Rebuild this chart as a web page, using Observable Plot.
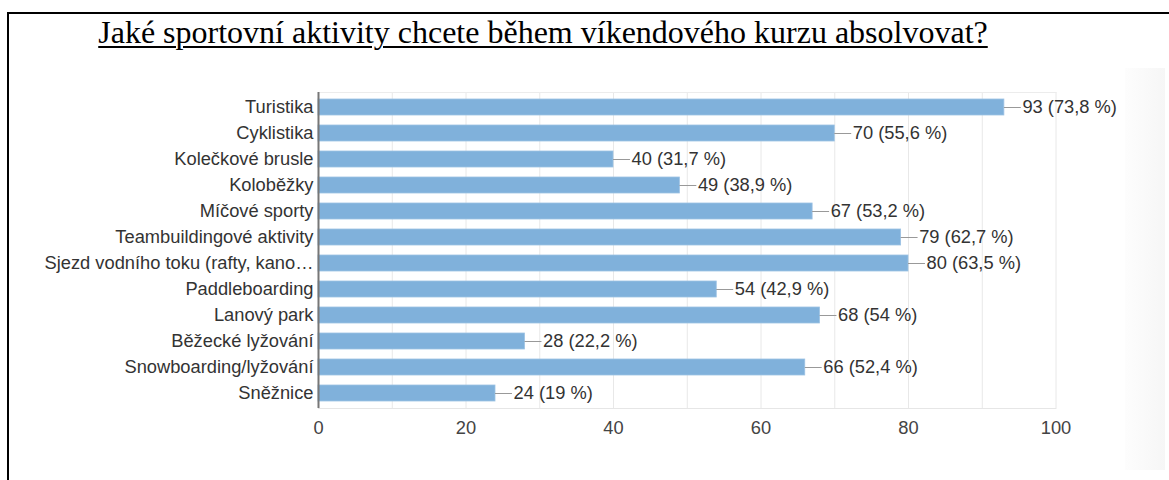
<!DOCTYPE html>
<html>
<head>
<meta charset="utf-8">
<script src="https://cdn.jsdelivr.net/npm/d3@7"></script>
<script src="https://cdn.jsdelivr.net/npm/@observablehq/plot@0.6"></script>
<style>
  html, body { margin: 0; padding: 0; background: #fff; width: 1169px; height: 480px; overflow: hidden; }
  #frame { position: absolute; left: 7px; top: 12px; width: 1300px; height: 600px; border-left: 2px solid #000; border-top: 2px solid #000; }
  #title { position: absolute; left: 0; width: 1086px; top: 14px; text-align: center; font-family: "Liberation Serif", "Times New Roman", serif; font-size: 32px; line-height: 36px; color: #000; text-decoration: underline; text-decoration-thickness: 2px; text-underline-offset: 3px; white-space: nowrap; }
  #shade { position: absolute; left: 1125px; top: 68px; width: 40px; height: 402px; background: linear-gradient(to right, #fdfdfd, #f6f6f6); }
  #chart { position: absolute; left: 0; top: 0; }
</style>
</head>
<body>
<div id="frame"></div>
<div id="shade"></div>
<div id="chart"></div>
<div id="title">Jaké sportovní aktivity chcete během víkendového kurzu absolvovat?</div>
<script>
const categories = [
  "Turistika",
  "Cyklistika",
  "Kolečkové brusle",
  "Koloběžky",
  "Míčové sporty",
  "Teambuildingové aktivity",
  "Sjezd vodního toku (rafty, kano…",
  "Paddleboarding",
  "Lanový park",
  "Běžecké lyžování",
  "Snowboarding/lyžování",
  "Sněžnice"
];
const counts = [93, 70, 40, 49, 67, 79, 80, 54, 68, 28, 66, 24];
const percents = ["73,8", "55,6", "31,7", "38,9", "53,2", "62,7", "63,5", "42,9", "54", "22,2", "52,4", "19"];
const xTicks = [0, 20, 40, 60, 80, 100];
const xGrid = [0, 10, 20, 30, 40, 50, 60, 70, 80, 90, 100];

const data = categories.map((c, i) => ({cat: c, value: counts[i], label: `${counts[i]} (${percents[i]} %)`}));

const font = "'Liberation Sans', Arial, Helvetica, sans-serif";
const W = 1169, H = 470;
const leaderUnits = 2.3;
const fs = 18.3;

const plot = Plot.plot({
  width: W,
  height: H,
  marginLeft: 318,
  marginRight: 113.5,
  marginTop: 92,
  marginBottom: 62,
  style: {fontFamily: font, fontSize: fs + "px", color: "#444", background: "transparent", overflow: "visible"},
  x: {domain: [0, 100]},
  y: {domain: categories, paddingInner: 0.39, paddingOuter: 0.2},
  marks: [
    Plot.gridX(xGrid, {stroke: "#e8e8e8", strokeOpacity: 1, strokeWidth: 1}),
    Plot.frame({anchor: "top", stroke: "#ececec"}),
    Plot.frame({anchor: "bottom", stroke: "#e6e6e6"}),
    Plot.barX(data, {y: "cat", x: "value", fill: "#80b1db", stroke: "#9cc2e4", strokeWidth: 0.8}),
    Plot.ruleY(data, {y: "cat", x1: "value", x2: d => d.value + leaderUnits, stroke: "#999", strokeWidth: 1}),
    Plot.text(data, {y: "cat", x: "value", text: "label", textAnchor: "start", dx: 18, fill: "#333", fontSize: fs}),
    Plot.ruleX([0], {stroke: "#777", strokeWidth: 2}),
    Plot.axisY({tickSize: 0, tickPadding: 5, label: null, fill: "#333", fontSize: fs}),
    Plot.axisX(xTicks, {tickSize: 0, tickPadding: 12, label: null, fill: "#444", fontSize: fs})
  ]
});
document.getElementById("chart").appendChild(plot);
</script>
</body>
</html>
